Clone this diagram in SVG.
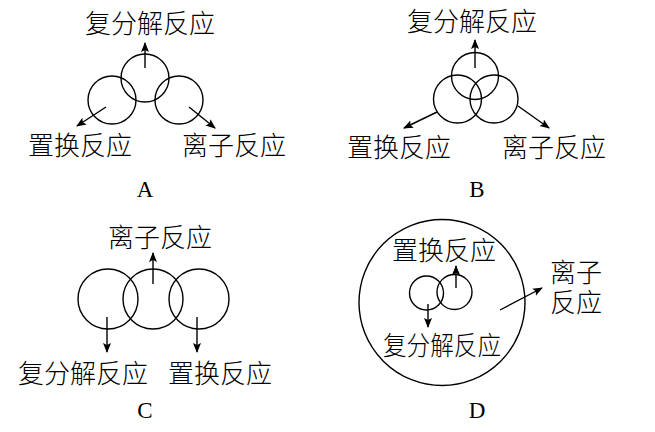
<svg xmlns="http://www.w3.org/2000/svg" width="655" height="432" viewBox="0 0 655 432">
<style>
.c{fill:none;stroke:#000;stroke-width:1.4}
.a{fill:none;stroke:#000;stroke-width:1.4;marker-end:url(#ah)}
.t{font-family:"Liberation Serif","Noto Sans CJK SC",serif;font-size:26px;font-weight:300;fill:#000}
.l{font-family:"Liberation Serif",serif;font-size:23px;fill:#000;text-anchor:middle}
</style>
<defs>
<marker id="ah" markerUnits="userSpaceOnUse" markerWidth="12" markerHeight="10" refX="9" refY="4" orient="auto">
<path d="M0,0 L10,4 L0,8 L2,4 Z" fill="#000"/>
</marker>
</defs>
<rect width="655" height="432" fill="#fff"/>

<g id="panelA">
<circle class="c" cx="145" cy="78" r="24"/>
<circle class="c" cx="112" cy="100" r="24"/>
<circle class="c" cx="179" cy="100" r="24"/>
<text class="t" x="85" y="33">复分解反应</text>
<text class="t" x="28" y="155">置换反应</text>
<text class="t" x="182" y="155">离子反应</text>
<text class="l" x="145" y="197">A</text>
</g>

<g id="panelB">
<circle class="c" cx="475" cy="76" r="23.5"/>
<circle class="c" cx="457.5" cy="99" r="24"/>
<circle class="c" cx="494" cy="99" r="24"/>
<text class="t" x="407" y="31">复分解反应</text>
<text class="t" x="347" y="157">置换反应</text>
<text class="t" x="502" y="157">离子反应</text>
<text class="l" x="477" y="197">B</text>
</g>

<g id="panelC">
<circle class="c" cx="108" cy="299" r="30"/>
<circle class="c" cx="153" cy="299" r="30"/>
<circle class="c" cx="199" cy="299" r="30"/>
<text class="t" x="108" y="247">离子反应</text>
<text class="t" x="18" y="383">复分解反应</text>
<text class="t" x="168" y="383">置换反应</text>
<text class="l" x="145" y="418">C</text>
</g>

<g id="panelD">
<circle class="c" cx="442" cy="302.5" r="83"/>
<circle class="c" cx="426.5" cy="293" r="17"/>
<circle class="c" cx="454.5" cy="292" r="17.5"/>
<text class="t" x="392" y="260">置换反应</text>
<text class="t" x="383" y="355" font-size="24" textLength="118" lengthAdjust="spacingAndGlyphs">复分解反应</text>
<text class="t" x="550" y="282">离子</text>
<text class="t" x="550" y="312">反应</text>
<text class="l" x="477" y="418">D</text>
</g>

<g id="connectors">
<line class="a" x1="145" y1="68" x2="145" y2="43"/>
<line class="a" x1="106" y1="107" x2="77" y2="126"/>
<line class="a" x1="189" y1="107" x2="215" y2="128"/>
<line class="a" x1="475" y1="68" x2="475" y2="40"/>
<line class="a" x1="437" y1="112" x2="404" y2="128"/>
<line class="a" x1="518" y1="106" x2="549" y2="128"/>
<line class="a" x1="153" y1="284" x2="153" y2="253"/>
<line class="a" x1="107" y1="317" x2="107" y2="352"/>
<line class="a" x1="197" y1="317" x2="197" y2="352"/>
<line class="a" x1="456" y1="288" x2="456" y2="266"/>
<line class="a" x1="428" y1="304" x2="428" y2="327"/>
<line class="a" x1="500" y1="310" x2="542" y2="288"/>
</g>
</svg>
